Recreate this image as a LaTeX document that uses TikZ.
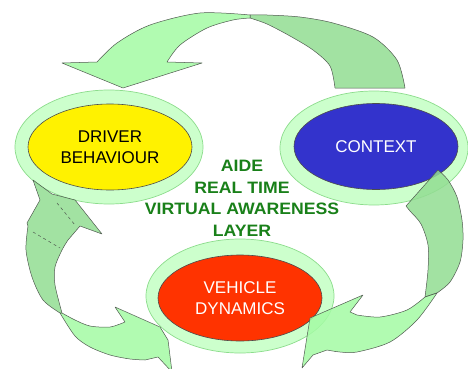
\documentclass[tikz,border=0pt]{standalone}
\usepackage{fontspec}
\setmainfont{Liberation Sans}
\newfontfamily\titlefont[FakeStretch=1.07]{Liberation Sans}
\usetikzlibrary{shapes.geometric}
\definecolor{ringfill}{RGB}{204,255,204}
\definecolor{ringedge}{RGB}{140,220,140}
\definecolor{arrowlight}{RGB}{164,251,164}
\definecolor{arrowdark}{RGB}{146,221,146}
\definecolor{arrowedge}{RGB}{80,90,80}
\definecolor{ctxblue}{RGB}{51,51,204}
\definecolor{vehred}{RGB}{255,51,0}
\definecolor{titlegreen}{RGB}{25,128,25}
\begin{document}
\begin{tikzpicture}[x=1pt,y=-1pt,
  ring/.style={ellipse,minimum width=188pt,minimum height=114pt,inner sep=0pt,fill=ringfill,draw=ringedge,line width=0.7pt},
  core/.style={ellipse,minimum width=164pt,minimum height=86pt,inner sep=0pt,draw=black!70,line width=0.6pt,align=center,font=\fontsize{17}{20.5}\selectfont},
  ribbonlight/.style={fill=arrowlight,fill opacity=0.85,draw=arrowedge,line width=0.5pt,line join=round},
  ribbondark/.style={fill=arrowdark,fill opacity=0.85,draw=arrowedge,line width=0.5pt,line join=round},
  hiddenedge/.style={draw=arrowedge,dashed,line width=0.5pt},
  titletext/.style={align=center,text=titlegreen,font={\titlefont\bfseries\fontsize{16.5}{21.5}\selectfont}}
]
\fill[white] (0,0) rectangle (468,369);
\path[use as bounding box] (0,0) rectangle (468,369);

% rings and ellipses
\node[ring] (drvring) at (109,147) {};
\node[ring] (ctxring) at (374,148) {};
\node[ring] (vehring) at (240,296) {};
\node[core,fill=yellow,text=black] (drv) at (110,147) {DRIVER\\BEHAVIOUR};
\node[core,fill=ctxblue,text=white] (ctx) at (376,146.5) {CONTEXT};
\node[core,fill=vehred,text=white] (veh) at (240,298) {VEHICLE\\DYNAMICS};

% centre title
\node[titletext] (aide) at (242,198.5) {AIDE\\REAL TIME\\VIRTUAL AWARENESS\\LAYER};

% top arrow: context -> driver
\path[ribbondark] plot[smooth] coordinates {(335,88) (330,66) (313,50) (290,36) (267,24) (250,18)}
  -- plot[smooth] coordinates {(250,15) (267,15) (300,17) (333,23) (373,37) (397,60) (405,88)} -- cycle;
\path[ribbonlight] plot[smooth] coordinates {(250,15) (200,13) (150,25) (117,43) (97,62)}
  -- (62,63) -- (123,88) -- (202,63)
  -- plot[smooth] coordinates {(167,62) (180,45) (207,28) (233,20) (250,18)} -- cycle;

% left arrow: vehicle <-> driver
\path[ribbondark] plot[smooth] coordinates {(60,313) (43,300) (32,277) (26,250) (28,226)}
  -- (27,223) -- (40,200) -- (33,180) -- (52,194) -- (75,200) -- (102,234) -- (80,226)
  -- plot[smooth] coordinates {(68,240) (62,250) (55,267) (55,285) (62,313)} -- cycle;
\draw[hiddenedge] (33,232) -- (60,248);
\draw[hiddenedge] (57,203) -- (75,225);
\path[ribbonlight] plot[smooth] coordinates {(62,313) (75,320) (90,326) (110,327) (125,322)}
  -- (115,307) -- (160,327) -- (168,340) -- (172,372) -- (158,357)
  -- plot[smooth] coordinates {(145,360) (130,359) (110,355) (90,347) (75,336) (60,313)} -- cycle;

% right arrow: context -> vehicle
\path[ribbondark] plot[smooth] coordinates {(438,170) (448,180) (457,197) (462,220) (463,240) (460,262) (450,282) (437,293)}
  -- plot[smooth] coordinates {(425,297) (428,270) (428,245) (421,224) (410,211) (406,206)} -- cycle;
\path[ribbonlight] plot[smooth] coordinates {(437,293) (417,320) (390,342) (357,352) (340,352) (327,350)}
  -- (313,355) -- (302,368) -- (310,318) -- (363,295) -- (350,312)
  -- plot[smooth] coordinates {(357,315) (380,317) (407,310) (425,297)} -- cycle;
\end{tikzpicture}
\end{document}
